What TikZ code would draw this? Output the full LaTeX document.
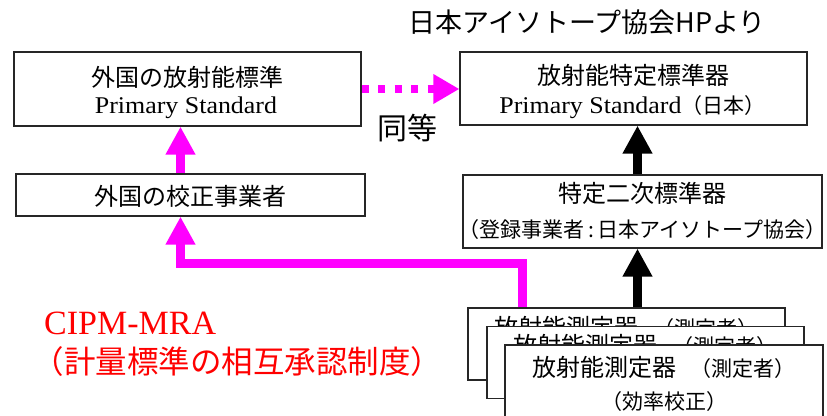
\documentclass[tikz,border=0pt]{standalone}
\usepackage{fontspec}
\setmainfont{Liberation Serif}
\newfontfamily\latw{Liberation Serif}[FakeStretch=1.08]
\newfontfamily\jp{Noto Sans CJK JP}
\usetikzlibrary{arrows.meta}
\definecolor{mag}{HTML}{FF00FF}
\definecolor{myred}{HTML}{FF0000}
\tikzset{
  box/.style={draw=black!85, line width=1.2pt, fill=white, inner sep=0pt},
  bigarrow/.style={line width=9pt, -{Triangle[width=28pt,length=28pt]}},
  jptitle/.style={font=\jp\fontsize{24}{28}\selectfont, inner sep=0pt},
  jpsub/.style={font=\jp\fontsize{21}{25}\selectfont, inner sep=0pt},
  latsub/.style={font=\latw\fontsize{24}{28}\selectfont, inner sep=0pt},
}
\begin{document}
\begin{tikzpicture}[x=1pt,y=-1pt]
\useasboundingbox (0,0) rectangle (827,415);

% top label
\node[font=\jp\fontsize{27}{31}\selectfont, inner sep=0pt] (src) at (587,22) {日本アイソトープ協会HPより};

% box A
\node[box, minimum width=347pt, minimum height=74pt] (A) at (187.5,89) {};
\node[jptitle] (At) at (187.5,77) {外国の放射能標準};
\node[latsub] (As) at (186,108) {Primary Standard};

% box B
\node[box, minimum width=347pt, minimum height=73pt] (B) at (633.5,88.5) {};
\node[jptitle] (Bt) at (633.5,75) {放射能特定標準器};
\node[latsub] (Bs) at (632.5,107) {Primary Standard{\jp\fontsize{21}{25}\selectfont （日本）}};

% box C
\node[box, minimum width=349pt, minimum height=42pt] (C) at (190.5,195) {};
\node[jptitle] (Ct) at (190.5,196) {外国の校正事業者};

% box D
\node[box, minimum width=359pt, minimum height=73pt] (D) at (642.5,211.5) {};
\node[jptitle] (Dt) at (642.5,193) {特定二次標準器};
\node[font=\jp\fontsize{21}{25}\selectfont, inner sep=0pt] (Ds) at (642.5,230) {（登録事業者\,:\,日本アイソトープ協会）};

% stacked measuring boxes
\node[box, minimum width=317pt, minimum height=72pt] (S1) at (626.5,344) {};
\node[jptitle] (S1t) at (626.5,327) {放射能測定器\hspace{0.6em}{\jp\fontsize{21}{25}\selectfont （測定者）}};
\node[box, minimum width=317pt, minimum height=72pt] (S2) at (645.5,362.5) {};
\node[jptitle] (S2t) at (645.5,345) {放射能測定器\hspace{0.6em}{\jp\fontsize{21}{25}\selectfont （測定者）}};
\node[box, minimum width=318pt, minimum height=74pt] (S3) at (664,382) {};
\node[jptitle] (S3t) at (664,367) {放射能測定器\hspace{0.6em}{\jp\fontsize{21}{25}\selectfont （測定者）}};
\node[jpsub] (S3s) at (664,402) {（効率校正）};

% red label
\node[myred, font=\fontsize{34}{38}\selectfont, inner sep=0pt, anchor=west] (cipm) at (44,323) {CIPM-MRA};
\node[myred, font=\jp\fontsize{31.5}{35}\selectfont, inner sep=0pt, anchor=west] (cipm2) at (32.5,362) {（計量標準の相互承認制度）};

% equivalence label
\node[font=\jp\fontsize{30}{34}\selectfont, inner sep=0pt] (eq) at (407,128) {同等};

% connectors
\coordinate (mx) at (180.5,0);
\coordinate (m1) at (522.5,263.5);
\coordinate (m2) at (180.5,263.5);
\coordinate (bx) at (637.5,0);

\draw[mag, bigarrow] (C.north -| mx) -- (A.south -| mx);
\draw[mag, bigarrow, line join=miter] (S1.north -| m1) -- (m1) -- (m2) -- (C.south -| m2);
\draw[mag, line width=8pt, dash pattern=on 7pt off 9.5pt, -{Triangle[width=28pt,length=26pt]}] (A.east |- 0,89) -- (B.west |- 0,89);
\draw[black, bigarrow] (D.north -| bx) -- (B.south -| bx);
\draw[black, bigarrow] (S1.north -| bx) -- (D.south -| bx);
\end{tikzpicture}
\end{document}
